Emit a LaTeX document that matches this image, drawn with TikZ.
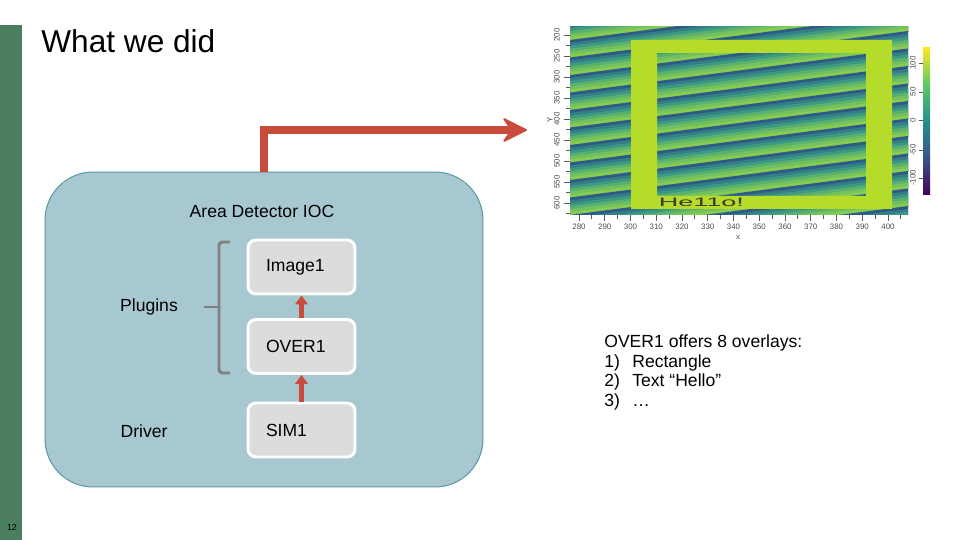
\documentclass[tikz,border=0pt]{standalone}
\usepackage{fontspec}
\setmainfont{Liberation Sans}
\usetikzlibrary{arrows.meta}

\definecolor{slidegreen}{HTML}{4A7E5E}
\definecolor{iocfill}{HTML}{A7C8D0}
\definecolor{iocline}{HTML}{5E9AA6}
\definecolor{boxfill}{HTML}{DCDCDC}
\definecolor{arrowred}{HTML}{C84B3B}
\definecolor{bracegray}{HTML}{808080}
\definecolor{framegreen}{HTML}{B5DC2A}
\definecolor{banddark}{HTML}{2E5B86}
\definecolor{bandmid}{HTML}{3A9A84}
\definecolor{bandlight}{HTML}{86CC52}
\definecolor{vir0}{HTML}{440154}
\definecolor{vir1}{HTML}{3B528B}
\definecolor{vir2}{HTML}{21918C}
\definecolor{vir3}{HTML}{5DC863}
\definecolor{vir4}{HTML}{FDE725}
\colorlet{band0}{banddark}
\colorlet{band1}{banddark!45!bandmid}
\colorlet{band2}{bandmid}
\colorlet{band3}{bandmid!55!bandlight}
\colorlet{band4}{bandmid!25!bandlight}
\colorlet{band5}{bandlight}

\begin{document}
\begin{tikzpicture}[x=0.02cm, y=-0.02cm,
  every node/.style = {font=\fontsize{10}{11.34}\selectfont},
  ioc box/.style    = {rectangle, draw=iocline, fill=iocfill, line width=0.6pt, rounded corners=0.96cm, minimum width=8.76cm, minimum height=6.3cm},
  plugin box/.style = {rectangle, rounded corners=0.16cm, draw=white, line width=1.7pt, fill=boxfill, minimum width=2.14cm, minimum height=1.08cm, text width=1.42cm, inner xsep=0.36cm, align=left},
  red edge/.style   = {-{Triangle[length=5pt,width=7pt]}, line width=2.3pt, arrowred},
  big edge/.style   = {-{Stealth[length=15pt,width=15pt,inset=5pt,round,line width=1pt]}, line width=4pt, arrowred},
  brace line/.style = {bracegray, line width=1.7pt, rounded corners=2pt},
  axis tick/.style  = {gray!70!black, line width=0.5pt},
  axis label/.style = {font=\fontsize{4.5}{5}\selectfont, text=gray!60!black, inner sep=0}]
\useasboundingbox (0,0) rectangle (960,540);
\fill[slidegreen] (0,25) rectangle (22,540);
\node[font=\fontsize{5}{6}\selectfont] (pagenum) at (12,527) {12};
\node[anchor=base west, inner sep=0, font=\fontsize{18}{21}\selectfont] (title) at (41,53) {What we did};

% IOC with its plugins
\node[ioc box] (ioc) at (264,329.5) {};
\node (ioctitle) at (262,211) {Area Detector IOC};
\node[plugin box] (img)  at (301.5,267)   {Image1};
\node[plugin box] (over) at (301.5,346.5) {OVER1};
\node[plugin box] (sim)  at (301.5,430)   {SIM1};
\node (plugins) at (149,307) {Plugins};
\node (driver)  at (144,431) {Driver};
\draw[brace line] (230,242) -- (219,242) -- (219,373) -- (230,373);
\draw[brace line] (219,307) -- (204,307);
\draw[red edge] (over.north) -- (img.south);
\draw[red edge] (sim.north) -- (over.south);

% overlay image
\begin{scope}
  \clip (570,27) rectangle (908,215);
  \foreach \k in {0,...,15}
    { \foreach \j in {0,...,5}
      { \pgfmathsetmacro\ya{5+17.5*\k+17.5/6*\j}
        \pgfmathsetmacro\yb{6+17.5*(\k+1)}
        \fill[band\j] (570,\ya) -- (908,\ya-44) -- (908,\yb-44) -- (570,\yb) -- cycle; } }
\end{scope}
\fill[framegreen, even odd rule] (631,40) rectangle (892,209) (657,53) rectangle (866,196);
\node[xscale=2.2, anchor=west, inner sep=0, text=black!75!olive, font=\fontsize{7}{7}\selectfont] (hello) at (658,202.5) {He11o!};
\foreach \i in {0,...,12}
  { \pgfmathtruncatemacro\xv{280+10*\i}
    \draw[axis tick] (579+25.75*\i,215) -- ++(0,6);
    \draw[axis tick] (579+25.75*\i+12.9,215) -- ++(0,4);
    \node[axis label] at (579+25.75*\i,227) {\xv}; }
\node[axis label] (xlabel) at (738,237) {x};
\foreach \i in {0,...,8}
  { \pgfmathtruncatemacro\yv{200+50*\i}
    \draw[axis tick] (570,35+21*\i) -- ++(-6,0);
    \draw[axis tick] (570,45.5+21*\i) -- ++(-4,0);
    \node[axis label, rotate=90] at (557,35+21*\i) {\yv}; }
\node[axis label, rotate=90] (ylabel) at (550,120) {Y};
\shade[top color=vir4, bottom color=vir3] (923,48) rectangle (930,84.75);
\shade[top color=vir3, bottom color=vir2] (923,84.75) rectangle (930,121.5);
\shade[top color=vir2, bottom color=vir1] (923,121.5) rectangle (930,158.25);
\shade[top color=vir1, bottom color=vir0] (923,158.25) rectangle (930,195);
\foreach \v/\y in {100/63, 50/92, 0/120, -50/150, -100/178}
  { \draw[axis tick] (923,\y) -- ++(-4,0);
    \node[axis label, rotate=90] at (913,\y) {\v}; }
\coordinate (plotin) at (527,130);
\draw[big edge] (ioc.north) |- (plotin);

\node[anchor=north west, align=left, inner sep=0] (overlays) at (604,334)
  {OVER1 offers 8 overlays:\\
   \makebox[0.56cm][l]{1)}Rectangle\\
   \makebox[0.56cm][l]{2)}Text “Hello”\\
   \makebox[0.56cm][l]{3)}…};
\end{tikzpicture}
\end{document}
